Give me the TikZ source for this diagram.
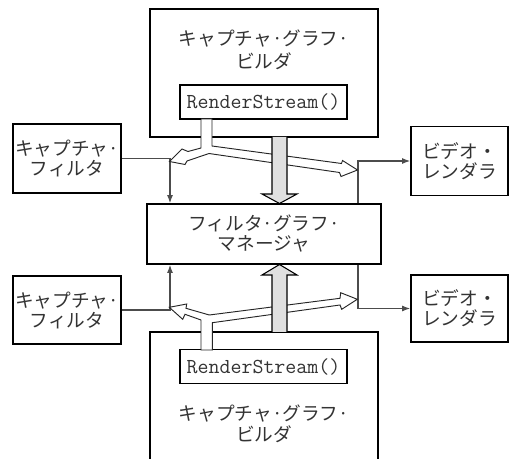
\documentclass[tikz,border=0pt]{standalone}
\usepackage{fontspec}
\newfontfamily\jp{Noto Sans CJK JP}
\usetikzlibrary{arrows.meta}

\begin{document}
\begin{tikzpicture}[x=0.75pt, y=-0.75pt]
   \tikzstyle{box}=[draw, line width=1.4pt, inner sep=0pt, text=black!80, align=center,
      font=\jp\fontsize{14}{15}\selectfont]
   \tikzstyle{func}=[box, font=\ttfamily\fontsize{16}{16}\selectfont, minimum width=125pt, minimum height=25.5pt]
   \tikzstyle{txt}=[text=black!80, align=center, inner sep=0pt]
   \tikzstyle{conn}=[draw=black!70, line width=0.8pt, -{Latex[length=6pt,width=4.5pt]}]
   \tikzstyle{hollow}=[draw=black!85, line width=0.7pt, fill=white, line join=miter]
   \tikzstyle{block}=[draw=black, line width=0.8pt, fill=black!12]

\useasboundingbox (0,0) rectangle (510,459);
\clip (0,0) rectangle (510,459);

% upper builder
\node[box, minimum width=171pt, minimum height=96pt] (tb) at (264,73) {};
\node[txt, font=\jp\fontsize{14}{17.5}\selectfont] (tbtxt) at (264,50) {キャプチャ·グラフ·\\ビルダ};
\node[func] (trs) at (263.5,102) {RenderStream()};

% filters and renderers
\node[box, minimum width=81pt, minimum height=51.75pt] (capt) at (67,158.5) {キャプチャ·\\フィルタ};
\node[box, minimum width=72.75pt, minimum height=51.75pt] (rndt) at (459.5,161) {ビデオ・\\レンダラ};
\node[box, minimum width=175.5pt, minimum height=45pt] (mgr) at (264,234) {フィルタ·グラフ·\\マネージャ};
\node[box, minimum width=81pt, minimum height=51pt] (capb) at (67,310) {キャプチャ·\\フィルタ};
\node[box, minimum width=72.75pt, minimum height=50.25pt] (rndb) at (459.5,308.5) {ビデオ・\\レンダラ};

% lower builder
\node[box, minimum width=171pt, minimum height=105pt] (bb) at (264,402) {};
\node[txt, font=\jp\fontsize{14}{15.5}\selectfont] (bbtxt) at (264,423.5) {キャプチャ·グラフ·\\ビルダ};
\node[func] (brs) at (263.5,366.5) {RenderStream()};

% data paths
\coordinate (lx) at (170,0);
\coordinate (rx) at (358,0);
\draw[conn] (capt.east) -| (lx |- mgr.north);
\draw[conn] (rx |- mgr.north) |- (rndt.west);
\draw[conn] (capb.east) -| (lx |- mgr.south);
\draw[conn] (rx |- mgr.south) |- (rndb.west);

% RenderStream() connects the pins
\draw[hollow] (201,119) -- (201,148) -- (188,151.5) -- (182,149) -- (169.5,161.5)
   -- (185,164.5) -- (187,161) -- (209,153.5) -- (339.5,172.5) -- (341,176.5)
   -- (357.5,170) -- (342.5,160.5) -- (341.5,163.5) -- (212,146) -- (212,119) -- cycle;
\draw[hollow] (201,350) -- (201,320) -- (185,314.3) -- (182.7,319.3) -- (169.3,307.3)
   -- (186.7,304) -- (186,308.3) -- (209.3,315) -- (340,298.3) -- (340.7,292.7)
   -- (357.3,299.3) -- (341.7,309.3) -- (340,305) -- (212.3,322.7) -- (212.3,350) -- cycle;

% builders talk to the manager
\draw[block] (272,137) -- (272,194) -- (262,194) -- (279.5,203.5) -- (297,194)
   -- (287,194) -- (287,137);
\draw[block] (272,332) -- (272,275) -- (262,275) -- (279.5,264.5) -- (297,275)
   -- (287,275) -- (287,332);

\end{tikzpicture}
\end{document}
